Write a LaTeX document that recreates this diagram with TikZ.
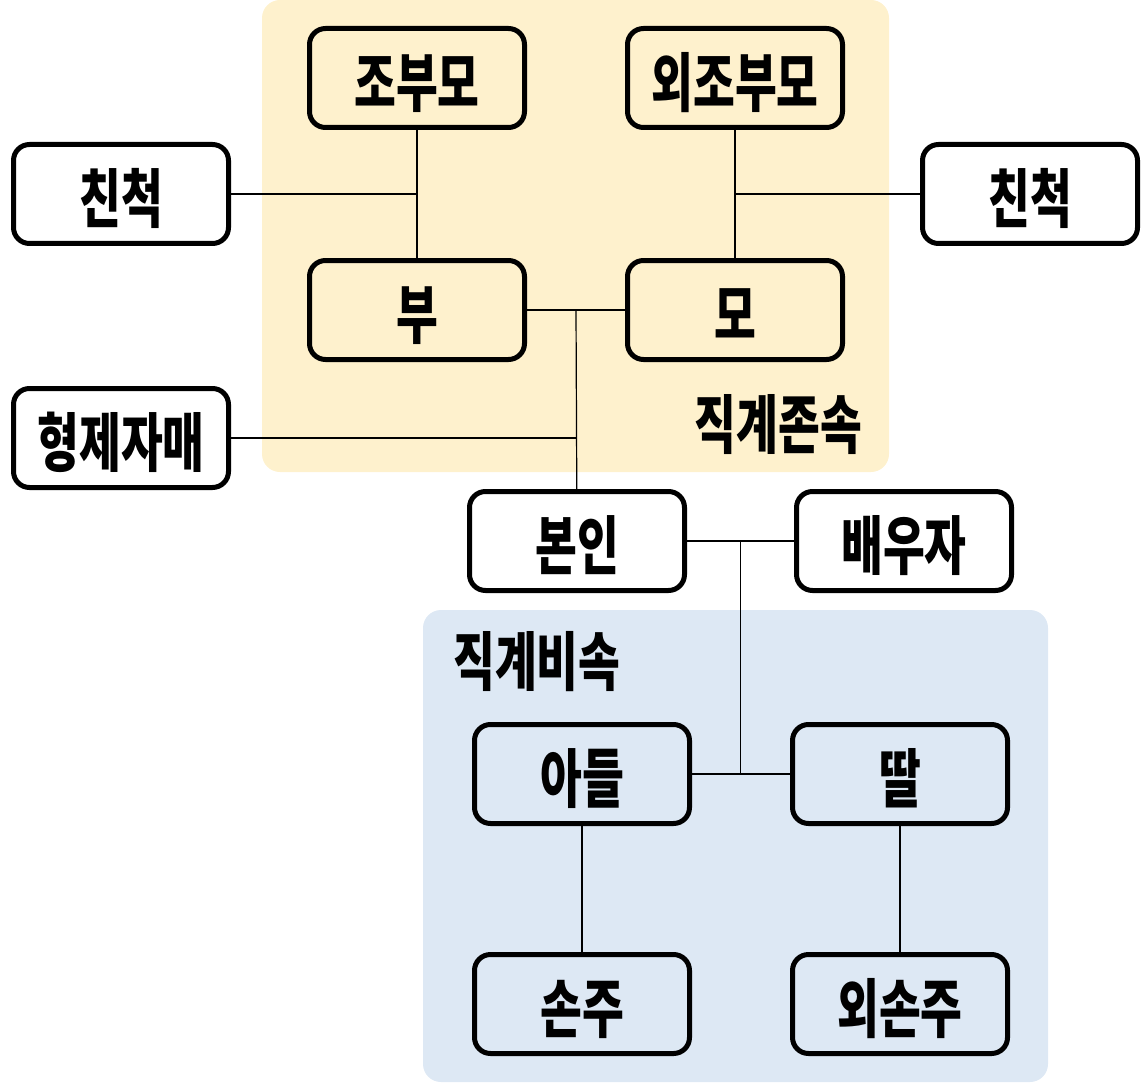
\documentclass[tikz,border=0pt]{standalone}
\usepackage{fontspec}
\setmainfont{Noto Sans CJK KR}[FakeStretch=0.71]
\usepackage{xcolor}
\usetikzlibrary{positioning,calc}
\definecolor{ancestor}{HTML}{FEF1CD}
\definecolor{descendant}{HTML}{DDE8F4}

\begin{document}
\begin{tikzpicture}[
    x=1pt, y=-1pt,
    person/.style={draw, rounded corners=16pt, line width=5pt, minimum width=215pt,
        minimum height=99pt, inner sep=0pt, text height=64pt, text depth=7pt,
        font=\fontsize{64}{68}\selectfont\bfseries},
    group/.style={font=\fontsize{64}{68}\selectfont\bfseries, inner sep=0pt},
    link/.style={line width=1.2pt}
]
\useasboundingbox (0,0) rectangle (1142,1083);

% regions
\fill[ancestor, rounded corners=18pt] (262,0) rectangle (889,472);
\fill[descendant, rounded corners=18pt] (423,610) rectangle (1048,1082);

\node[person] (grandpa) at (417,78) {조부모};
\node[person] (mgrandpa) at (735,78) {외조부모};
\node[person] (kinleft) at (121,194) {친척};
\node[person] (kinright) at (1030,194) {친척};
\node[person] (father) at (417,310) {부};
\node[person] (mother) at (735,310) {모};
\node[person] (sibling) at (121,438) {형제자매};
\node[person] (self) at (577,541) {본인};
\node[person] (spouse) at (904,541) {배우자};
\node[person] (son) at (582,774) {아들};
\node[person] (daughter) at (900,774) {딸};
\node[person] (grandchild) at (582,1004) {손주};
\node[person] (dgrandchild) at (900,1004) {외손주};

\node[group, anchor=east] (upper) at (862,425) {직계존속};
\node[group, anchor=west] (lower) at (453,662) {직계비속};

\coordinate (parents) at ($(father.east)!0.5!(mother.west)$);
\coordinate (couple) at ($(self.east)!0.5!(spouse.west)$);

\draw[link] (grandpa) -- (father);
\draw[link] (mgrandpa) -- (mother);
\draw[link] (kinleft) -- (kinleft -| grandpa);
\draw[link] (kinright) -- (kinright -| mgrandpa);
\draw[link] (father) -- (mother);
\draw[link] (parents) -- (self);
\draw[link] (sibling) -- (sibling -| parents);
\draw[link] (self) -- (spouse);
\draw[link] (couple) -- (couple |- son);
\draw[link] (son) -- (daughter);
\draw[link] (son) -- (grandchild);
\draw[link] (daughter) -- (dgrandchild);

\end{tikzpicture}
\end{document}
